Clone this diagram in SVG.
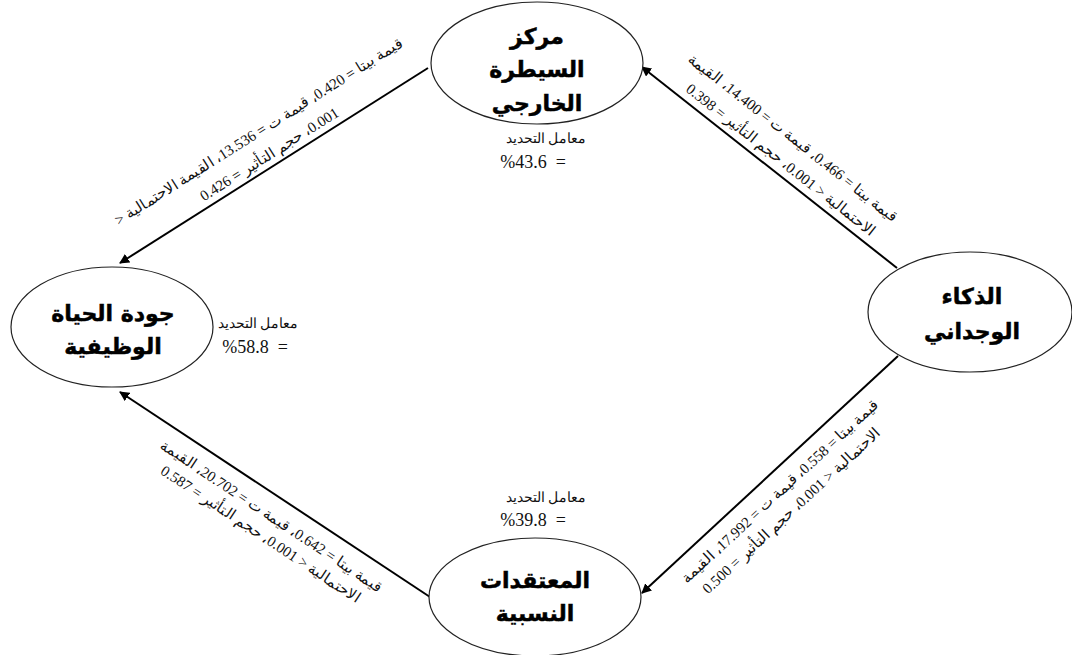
<svg xmlns="http://www.w3.org/2000/svg" width="1072" height="655" viewBox="0 0 1072 655">
<defs>
<marker id="ah" viewBox="0 0 10 10" refX="9" refY="5" markerWidth="10" markerHeight="10" markerUnits="userSpaceOnUse" orient="auto">
<path d="M0,0 L10,5 L0,10 z" fill="#000"/>
</marker>
<style>
.node ellipse{fill:#fff;stroke:#222;stroke-width:1.2}
.nt{font-family:"DejaVu Sans",sans-serif;font-weight:bold;font-size:22px;fill:#000;stroke:#000;stroke-width:0.5;text-anchor:middle;direction:rtl}
.r2{font-family:"Liberation Serif","DejaVu Serif",serif;font-size:13.5px;fill:#111;text-anchor:middle;direction:rtl}
.pc{font-family:"Liberation Serif",serif;font-size:18px;fill:#111;text-anchor:middle;direction:ltr;white-space:pre}
.lb{font-family:"Liberation Serif","DejaVu Serif",serif;font-size:15px;fill:#111;text-anchor:middle;direction:rtl}
.conn line{stroke:#000;stroke-width:2;marker-end:url(#ah)}
</style>
</defs>
<rect width="1072" height="655" fill="#fff"/>
<g id="connectors" class="conn">
<line x1="428" y1="68" x2="120" y2="263"/>
<line x1="897" y1="268" x2="642" y2="67"/>
<line x1="430" y1="597" x2="120" y2="392"/>
<line x1="898" y1="356" x2="642" y2="593"/>
</g>
<g id="labels">
<g transform="translate(274,165.5) rotate(-32.3)">
<text class="lb" x="5" y="-32">قيمة بيتا = 0.420، قيمة ت = 13.536، القيمة الاحتمالية &lt;</text>
<text class="lb" x="2" y="-7">0.001، حجم التأثير = 0.426</text>
</g>
<g transform="translate(769.5,167.5) rotate(38.2)">
<text class="lb" x="0" y="-33">قيمة بيتا = 0.466، قيمة ت = 14.400، القيمة</text>
<text class="lb" x="4" y="-8">الاحتمالية &lt; 0.001، حجم التأثير = 0.398</text>
</g>
<g transform="translate(275,494.5) rotate(33.5)">
<text class="lb" x="9" y="25">قيمة بيتا = 0.642، قيمة ت = 20.702، القيمة</text>
<text class="lb" x="10" y="46">الاحتمالية &lt; 0.001، حجم التأثير = 0.587</text>
</g>
<g transform="translate(770,474.5) rotate(-42.8)">
<text class="lb" x="-4" y="24">قيمة بيتا = 0.558، قيمة ت = 17.992، القيمة</text>
<text class="lb" x="-9" y="46">الاحتمالية &lt; 0.001، حجم التأثير = 0.500</text>
</g>
</g>
<g id="node-external" class="node">
<ellipse cx="537" cy="63" rx="106" ry="61"/>
<text class="nt" x="537" y="44">مركز</text>
<text class="nt" x="537" y="77">السيطرة</text>
<text class="nt" x="537" y="111">الخارجي</text>
<text class="r2" x="546" y="143">معامل التحديد</text>
<text class="pc" x="533" y="168">%43.6  =</text>
</g>
<g id="node-quality" class="node">
<ellipse cx="112" cy="327" rx="101" ry="60"/>
<text class="nt" x="113" y="321">جودة الحياة</text>
<text class="nt" x="113" y="354">الوظيفية</text>
<text class="r2" x="258" y="328">معامل التحديد</text>
<text class="pc" x="255" y="353">%58.8  =</text>
</g>
<g id="node-emotional" class="node">
<ellipse cx="970" cy="312" rx="102" ry="60"/>
<text class="nt" x="972" y="304">الذكاء</text>
<text class="nt" x="972" y="339">الوجداني</text>
</g>
<g id="node-beliefs" class="node">
<ellipse cx="535" cy="597" rx="106" ry="59"/>
<text class="nt" x="535" y="588">المعتقدات</text>
<text class="nt" x="535" y="621">النسبية</text>
<text class="r2" x="546" y="502">معامل التحديد</text>
<text class="pc" x="533" y="526">%39.8  =</text>
</g>
</svg>
